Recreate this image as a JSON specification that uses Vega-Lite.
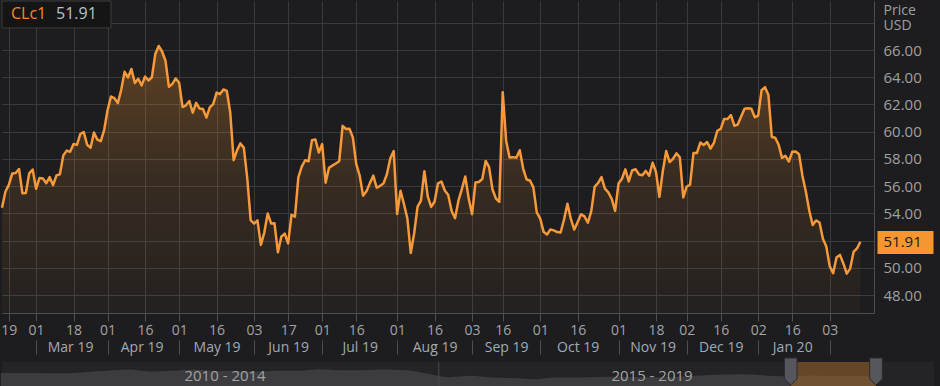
{
  "$schema": "https://vega.github.io/schema/vega-lite/v6.json",
  "background": "#1d1d1f",
  "padding": 0,
  "spacing": 1,
  "config": {
    "font": "Open Sans",
    "view": {"stroke": null},
    "axis": {"labelFont": "Open Sans", "titleFont": "Open Sans", "labelOverlap": false, "labelBound": false, "labelFlush": false}
  },
  "datasets": {
    "prices": [
      {"date":"2019-02-14","close":54.41},{"date":"2019-02-15","close":55.59},{"date":"2019-02-19","close":56.09},{"date":"2019-02-20","close":56.92},{"date":"2019-02-21","close":56.96},{"date":"2019-02-22","close":57.26},{"date":"2019-02-25","close":55.48},{"date":"2019-02-26","close":55.50},{"date":"2019-02-27","close":56.94},{"date":"2019-02-28","close":57.22},
      {"date":"2019-03-01","close":55.80},{"date":"2019-03-04","close":56.59},{"date":"2019-03-05","close":56.56},{"date":"2019-03-06","close":56.22},{"date":"2019-03-07","close":56.66},{"date":"2019-03-08","close":56.07},{"date":"2019-03-11","close":56.79},{"date":"2019-03-12","close":56.87},{"date":"2019-03-13","close":58.26},{"date":"2019-03-14","close":58.61},{"date":"2019-03-15","close":58.52},{"date":"2019-03-18","close":59.09},{"date":"2019-03-19","close":59.03},{"date":"2019-03-20","close":59.83},{"date":"2019-03-21","close":59.98},{"date":"2019-03-22","close":59.04},{"date":"2019-03-25","close":58.82},{"date":"2019-03-26","close":59.94},{"date":"2019-03-27","close":59.41},{"date":"2019-03-28","close":59.30},{"date":"2019-03-29","close":60.14},
      {"date":"2019-04-01","close":61.59},{"date":"2019-04-02","close":62.58},{"date":"2019-04-03","close":62.46},{"date":"2019-04-04","close":62.10},{"date":"2019-04-05","close":63.08},{"date":"2019-04-08","close":64.40},{"date":"2019-04-09","close":63.98},{"date":"2019-04-10","close":64.61},{"date":"2019-04-11","close":63.58},{"date":"2019-04-12","close":63.89},{"date":"2019-04-15","close":63.40},{"date":"2019-04-16","close":64.05},{"date":"2019-04-17","close":63.76},{"date":"2019-04-18","close":64.00},{"date":"2019-04-22","close":65.70},{"date":"2019-04-23","close":66.30},{"date":"2019-04-24","close":65.89},{"date":"2019-04-25","close":65.21},{"date":"2019-04-26","close":63.30},{"date":"2019-04-29","close":63.50},{"date":"2019-04-30","close":63.91},
      {"date":"2019-05-01","close":63.60},{"date":"2019-05-02","close":61.81},{"date":"2019-05-03","close":61.94},{"date":"2019-05-06","close":62.25},{"date":"2019-05-07","close":61.40},{"date":"2019-05-08","close":62.12},{"date":"2019-05-09","close":61.70},{"date":"2019-05-10","close":61.66},{"date":"2019-05-13","close":61.04},{"date":"2019-05-14","close":61.78},{"date":"2019-05-15","close":62.02},{"date":"2019-05-16","close":62.87},{"date":"2019-05-17","close":62.76},{"date":"2019-05-20","close":63.10},{"date":"2019-05-21","close":62.99},{"date":"2019-05-22","close":61.42},{"date":"2019-05-23","close":57.91},{"date":"2019-05-24","close":58.63},{"date":"2019-05-28","close":59.14},{"date":"2019-05-29","close":58.81},{"date":"2019-05-30","close":56.59},{"date":"2019-05-31","close":53.50},
      {"date":"2019-06-03","close":53.25},{"date":"2019-06-04","close":53.48},{"date":"2019-06-05","close":51.68},{"date":"2019-06-06","close":52.59},{"date":"2019-06-07","close":53.99},{"date":"2019-06-10","close":53.26},{"date":"2019-06-11","close":53.27},{"date":"2019-06-12","close":51.14},{"date":"2019-06-13","close":52.28},{"date":"2019-06-14","close":52.51},{"date":"2019-06-17","close":51.80},{"date":"2019-06-18","close":53.90},{"date":"2019-06-19","close":53.76},{"date":"2019-06-20","close":56.65},{"date":"2019-06-21","close":57.43},{"date":"2019-06-24","close":57.90},{"date":"2019-06-25","close":57.83},{"date":"2019-06-26","close":59.38},{"date":"2019-06-27","close":59.43},{"date":"2019-06-28","close":58.47},
      {"date":"2019-07-01","close":59.09},{"date":"2019-07-02","close":56.25},{"date":"2019-07-03","close":57.34},{"date":"2019-07-05","close":57.51},{"date":"2019-07-08","close":57.66},{"date":"2019-07-09","close":57.83},{"date":"2019-07-10","close":60.43},{"date":"2019-07-11","close":60.20},{"date":"2019-07-12","close":60.21},{"date":"2019-07-15","close":59.58},{"date":"2019-07-16","close":57.62},{"date":"2019-07-17","close":56.78},{"date":"2019-07-18","close":55.30},{"date":"2019-07-19","close":55.63},{"date":"2019-07-22","close":56.22},{"date":"2019-07-23","close":56.77},{"date":"2019-07-24","close":55.88},{"date":"2019-07-25","close":56.02},{"date":"2019-07-26","close":56.20},{"date":"2019-07-29","close":56.87},{"date":"2019-07-30","close":58.05},{"date":"2019-07-31","close":58.58},
      {"date":"2019-08-01","close":53.95},{"date":"2019-08-02","close":55.66},{"date":"2019-08-05","close":54.69},{"date":"2019-08-06","close":53.63},{"date":"2019-08-07","close":51.09},{"date":"2019-08-08","close":52.54},{"date":"2019-08-09","close":54.50},{"date":"2019-08-12","close":54.93},{"date":"2019-08-13","close":57.10},{"date":"2019-08-14","close":55.23},{"date":"2019-08-15","close":54.47},{"date":"2019-08-16","close":54.87},{"date":"2019-08-19","close":56.21},{"date":"2019-08-20","close":56.34},{"date":"2019-08-21","close":55.68},{"date":"2019-08-22","close":55.35},{"date":"2019-08-23","close":54.17},{"date":"2019-08-26","close":53.64},{"date":"2019-08-27","close":54.93},{"date":"2019-08-28","close":55.78},{"date":"2019-08-29","close":56.71},{"date":"2019-08-30","close":55.10},
      {"date":"2019-09-03","close":53.94},{"date":"2019-09-04","close":56.26},{"date":"2019-09-05","close":56.30},{"date":"2019-09-06","close":56.52},{"date":"2019-09-09","close":57.85},{"date":"2019-09-10","close":57.40},{"date":"2019-09-11","close":55.75},{"date":"2019-09-12","close":55.09},{"date":"2019-09-13","close":54.85},{"date":"2019-09-16","close":62.90},{"date":"2019-09-17","close":59.34},{"date":"2019-09-18","close":58.11},{"date":"2019-09-19","close":58.13},{"date":"2019-09-20","close":58.09},{"date":"2019-09-23","close":58.64},{"date":"2019-09-24","close":57.29},{"date":"2019-09-25","close":56.49},{"date":"2019-09-26","close":56.41},{"date":"2019-09-27","close":55.91},{"date":"2019-09-30","close":54.07},
      {"date":"2019-10-01","close":53.62},{"date":"2019-10-02","close":52.64},{"date":"2019-10-03","close":52.45},{"date":"2019-10-04","close":52.81},{"date":"2019-10-07","close":52.75},{"date":"2019-10-08","close":52.63},{"date":"2019-10-09","close":52.59},{"date":"2019-10-10","close":53.55},{"date":"2019-10-11","close":54.70},{"date":"2019-10-14","close":53.59},{"date":"2019-10-15","close":52.81},{"date":"2019-10-16","close":53.36},{"date":"2019-10-17","close":53.93},{"date":"2019-10-18","close":53.78},{"date":"2019-10-21","close":53.31},{"date":"2019-10-22","close":54.16},{"date":"2019-10-23","close":55.97},{"date":"2019-10-24","close":56.23},{"date":"2019-10-25","close":56.66},{"date":"2019-10-28","close":55.81},{"date":"2019-10-29","close":55.54},{"date":"2019-10-30","close":55.06},{"date":"2019-10-31","close":54.18},
      {"date":"2019-11-01","close":56.20},{"date":"2019-11-04","close":56.54},{"date":"2019-11-05","close":57.23},{"date":"2019-11-06","close":56.35},{"date":"2019-11-07","close":57.15},{"date":"2019-11-08","close":57.24},{"date":"2019-11-11","close":56.86},{"date":"2019-11-12","close":56.80},{"date":"2019-11-13","close":57.12},{"date":"2019-11-14","close":56.77},{"date":"2019-11-15","close":57.72},{"date":"2019-11-18","close":57.05},{"date":"2019-11-19","close":55.21},{"date":"2019-11-20","close":57.11},{"date":"2019-11-21","close":58.58},{"date":"2019-11-22","close":57.77},{"date":"2019-11-25","close":58.01},{"date":"2019-11-26","close":58.41},{"date":"2019-11-27","close":58.11},{"date":"2019-11-29","close":55.17},
      {"date":"2019-12-02","close":55.96},{"date":"2019-12-03","close":56.10},{"date":"2019-12-04","close":58.43},{"date":"2019-12-05","close":58.43},{"date":"2019-12-06","close":59.20},{"date":"2019-12-09","close":59.02},{"date":"2019-12-10","close":59.24},{"date":"2019-12-11","close":58.76},{"date":"2019-12-12","close":59.18},{"date":"2019-12-13","close":60.07},{"date":"2019-12-16","close":60.21},{"date":"2019-12-17","close":60.94},{"date":"2019-12-18","close":60.93},{"date":"2019-12-19","close":61.22},{"date":"2019-12-20","close":60.44},{"date":"2019-12-23","close":60.52},{"date":"2019-12-24","close":61.11},{"date":"2019-12-26","close":61.68},{"date":"2019-12-27","close":61.72},{"date":"2019-12-30","close":61.68},{"date":"2019-12-31","close":61.06},
      {"date":"2020-01-02","close":61.18},{"date":"2020-01-03","close":63.05},{"date":"2020-01-06","close":63.27},{"date":"2020-01-07","close":62.70},{"date":"2020-01-08","close":59.61},{"date":"2020-01-09","close":59.56},{"date":"2020-01-10","close":59.04},{"date":"2020-01-13","close":58.08},{"date":"2020-01-14","close":58.23},{"date":"2020-01-15","close":57.81},{"date":"2020-01-16","close":58.52},{"date":"2020-01-17","close":58.54},{"date":"2020-01-21","close":58.34},{"date":"2020-01-22","close":56.74},{"date":"2020-01-23","close":55.59},{"date":"2020-01-24","close":54.19},{"date":"2020-01-27","close":53.14},{"date":"2020-01-28","close":53.48},{"date":"2020-01-29","close":53.33},{"date":"2020-01-30","close":52.14},{"date":"2020-01-31","close":51.56},
      {"date":"2020-02-03","close":50.11},{"date":"2020-02-04","close":49.61},{"date":"2020-02-05","close":50.75},{"date":"2020-02-06","close":50.95},{"date":"2020-02-07","close":50.32},{"date":"2020-02-10","close":49.57},{"date":"2020-02-11","close":49.94},{"date":"2020-02-12","close":51.17},{"date":"2020-02-13","close":51.42},{"date":"2020-02-14","close":51.91}
    ],
    "quote": [{"ric": "CLc1", "last": 51.91}],
    "history": [
      {"date":"2009-11-15","close":78.0},{"date":"2010-02-15","close":78.7},{"date":"2010-05-15","close":78.0},{"date":"2010-08-15","close":76.1},{"date":"2010-11-15","close":85.2},
      {"date":"2011-02-15","close":94.1},{"date":"2011-05-15","close":102.6},{"date":"2011-08-15","close":89.8},{"date":"2011-11-15","close":94.1},
      {"date":"2012-02-15","close":102.9},{"date":"2012-05-15","close":93.4},{"date":"2012-08-15","close":92.2},{"date":"2012-11-15","close":88.2},
      {"date":"2013-02-15","close":94.4},{"date":"2013-05-15","close":94.2},{"date":"2013-08-15","close":105.8},{"date":"2013-11-15","close":97.5},
      {"date":"2014-02-15","close":98.7},{"date":"2014-05-15","close":103.0},{"date":"2014-08-15","close":97.9},{"date":"2014-11-15","close":73.2},
      {"date":"2015-02-15","close":48.6},{"date":"2015-05-15","close":57.9},{"date":"2015-08-15","close":46.5},{"date":"2015-11-15","close":42.0},
      {"date":"2016-02-15","close":33.5},{"date":"2016-05-15","close":45.6},{"date":"2016-08-15","close":44.9},{"date":"2016-11-15","close":49.3},
      {"date":"2017-02-15","close":51.8},{"date":"2017-05-15","close":48.2},{"date":"2017-08-15","close":48.2},{"date":"2017-11-15","close":55.4},
      {"date":"2018-02-15","close":62.9},{"date":"2018-05-15","close":68.0},{"date":"2018-08-15","close":69.5},{"date":"2018-11-15","close":59.0},
      {"date":"2019-02-15","close":54.9},{"date":"2019-05-15","close":59.8},{"date":"2019-08-15","close":56.4},{"date":"2019-11-15","close":57.0},{"date":"2020-02-14","close":51.9}
    ],
    "periods": [{"date":"2012-07-01","label":"2010 - 2014"},{"date":"2017-07-01","label":"2015 - 2019"}],
    "selection": [{"start":"2019-02-14","end":"2020-02-14"}],
    "handles": [{"date":"2019-02-14"},{"date":"2020-02-14"}],
    "divider": [{"date":"2015-01-01"}]
  },
  "vconcat": [
    {
      "width": 872,
      "height": 312,
      "data": {"name": "prices"},
      "resolve": {"axis": {"x": "independent", "y": "independent"}},
      "layer": [
        {
          "mark": {
            "type": "area",
            "fill": {"gradient": "linear", "x1": 0, "y1": 0, "x2": 0, "y2": 1,
              "stops": [{"offset": 0, "color": "rgba(247,150,47,0.30)"}, {"offset": 0.5, "color": "rgba(247,150,47,0.12)"}, {"offset": 1, "color": "rgba(247,150,47,0.03)"}]}
          },
          "encoding": {
            "x": {
              "field": "date", "type": "nominal",
              "scale": {"type": "point", "padding": 0, "domain": {"unionWith": ["2020-02-18","2020-02-19","2020-02-20","2020-02-21"]}},
              "axis": {
                "orient": "bottom", "title": null,
                "values": ["2019-02-19","2019-03-01","2019-03-18","2019-04-01","2019-04-16","2019-05-01","2019-05-16","2019-06-03","2019-06-17","2019-07-01","2019-07-16","2019-08-01","2019-08-16","2019-09-03","2019-09-16","2019-10-01","2019-10-16","2019-11-01","2019-11-18","2019-12-02","2019-12-16","2020-01-02","2020-01-16","2020-02-03"],
                "labelExpr": "substring(datum.value, 8, 10)",
                "labelAngle": 0, "labelColor": "#a3a3a3", "labelFontSize": 14, "labelPadding": 2,
                "grid": true, "gridColor": "#3a3a3c", "gridWidth": 1,
                "ticks": true, "tickSize": 8, "tickColor": "#4e4e50",
                "domain": true, "domainColor": "#4e4e50"
              }
            },
            "y": {
              "field": "close", "type": "quantitative",
              "scale": {"domain": [46.68, 69.6], "nice": false, "zero": false},
              "axis": {
                "orient": "right",
                "values": [48, 50, 52, 54, 56, 58, 60, 62, 64, 66, 68],
                "labelExpr": "datum.value == 52 || datum.value == 68 ? '' : format(datum.value, '.2f')",
                "labelColor": "#a0a0a0", "labelFontSize": 15, "labelPadding": 9,
                "ticks": false, "tickSize": 0,
                "grid": true, "gridColor": "#3a3a3c", "gridWidth": 1,
                "domain": true, "domainColor": "#4e4e50",
                "title": ["Price", "USD"], "titleAngle": 0, "titleAlign": "left", "titleBaseline": "top",
                "titleX": 9, "titleY": 2, "titleFontSize": 14, "titleFontWeight": "normal", "titleColor": "#a0a0a0", "titleLineHeight": 15
              }
            },
            "y2": {"datum": 46.68}
          }
        },
        {
          "mark": {"type": "line", "color": "#f6993a", "strokeWidth": 2.5, "strokeJoin": "round"},
          "encoding": {
            "x": {
              "field": "date", "type": "nominal",
              "axis": {
                "orient": "bottom", "title": null,
                "values": ["2019-03-01","2019-04-01","2019-05-01","2019-06-03","2019-07-01","2019-08-01","2019-09-03","2019-10-01","2019-11-01","2019-12-02","2020-01-02","2020-02-03"],
                "labels": false, "grid": false, "domain": false,
                "ticks": true, "tickSize": 14, "tickColor": "#4e4e50", "offset": 27
              }
            },
            "y": {
              "field": "close", "type": "quantitative",
              "axis": {
                "orient": "right", "title": null, "values": [51.91], "format": ".2f",
                "grid": false, "domain": false,
                "ticks": true, "tickSize": 56, "tickWidth": 23, "tickColor": "#f7962f", "offset": 3,
                "labelPadding": -50, "labelColor": "#1a1a1a", "labelFontSize": 15
              }
            }
          }
        },
        {
          "data": {"name": "quote"},
          "mark": {"type": "rect", "fill": "#151516", "stroke": "#3c3c3e", "strokeWidth": 1},
          "encoding": {
            "x": {
              "datum": "2019-02-14", "type": "nominal",
              "axis": {
                "orient": "bottom", "title": null,
                "values": ["2019-03-15","2019-04-15","2019-05-16","2019-06-17","2019-07-17","2019-08-16","2019-09-17","2019-10-16","2019-11-15","2019-12-16","2020-01-16"],
                "labelExpr": "utcFormat(toDate(datum.value), '%b %y')",
                "labelAngle": 0, "labelColor": "#a0aab5", "labelFontSize": 14, "labelPadding": -1,
                "ticks": false, "tickSize": 0, "grid": false, "domain": false, "offset": 28
              }
            },
            "x2": {"datum": "2019-04-02"},
            "y": {"datum": 69.6, "type": "quantitative", "axis": null},
            "y2": {"datum": 67.62}
          }
        },
        {
          "data": {"name": "quote"},
          "mark": {"type": "text", "align": "left", "baseline": "alphabetic", "dx": 9, "fontSize": 16, "color": "#f5852c"},
          "encoding": {
            "x": {"datum": "2019-02-14", "type": "nominal", "axis": null},
            "y": {"datum": 68.26, "type": "quantitative", "axis": null},
            "text": {"field": "ric"}
          }
        },
        {
          "data": {"name": "quote"},
          "mark": {"type": "text", "align": "left", "baseline": "alphabetic", "dx": 54, "fontSize": 16, "color": "#b8c0ca"},
          "encoding": {
            "x": {"datum": "2019-02-14", "type": "nominal", "axis": null},
            "y": {"datum": 68.26, "type": "quantitative", "axis": null},
            "text": {"field": "last", "format": ".2f"}
          }
        }
      ]
    },
    {
      "width": 932,
      "height": 27,
      "view": {"fill": "#242426", "stroke": null},
      "layer": [
        {
          "data": {"name": "history"},
          "mark": {"type": "area", "color": "#3c3c3e", "interpolate": "monotone"},
          "encoding": {
            "x": {"field": "date", "type": "temporal", "scale": {"domain": ["2009-11-20", "2020-02-14"], "range": [0, 874]}, "axis": null},
            "y": {"field": "close", "type": "quantitative", "scale": {"domain": [-36, 157], "nice": false, "zero": false}, "axis": null},
            "y2": {"datum": -36}
          }
        },
        {
          "data": {"name": "selection"},
          "mark": {"type": "rect", "color": "#9a6228", "opacity": 0.55},
          "encoding": {
            "x": {"field": "start", "type": "temporal"},
            "x2": {"field": "end"}
          }
        },
        {
          "data": {"name": "divider"},
          "mark": {"type": "rule", "color": "#4a4a4c", "strokeWidth": 1},
          "encoding": {"x": {"field": "date", "type": "temporal"}}
        },
        {
          "data": {"name": "periods"},
          "mark": {"type": "text", "fontSize": 15, "color": "#a3a3a3", "baseline": "middle"},
          "encoding": {
            "x": {"field": "date", "type": "temporal"},
            "text": {"field": "label"}
          }
        },
        {
          "data": {"name": "handles"},
          "mark": {"type": "point", "filled": true, "opacity": 1, "fill": "#55575c", "stroke": "#2a2a2c", "strokeWidth": 1,
            "shape": "M-0.47,-1L0.47,-1L0.47,0.55L0,1L-0.47,0.55Z", "size": 729, "yOffset": -4},
          "encoding": {"x": {"field": "date", "type": "temporal"}}
        }
      ]
    }
  ]
}
